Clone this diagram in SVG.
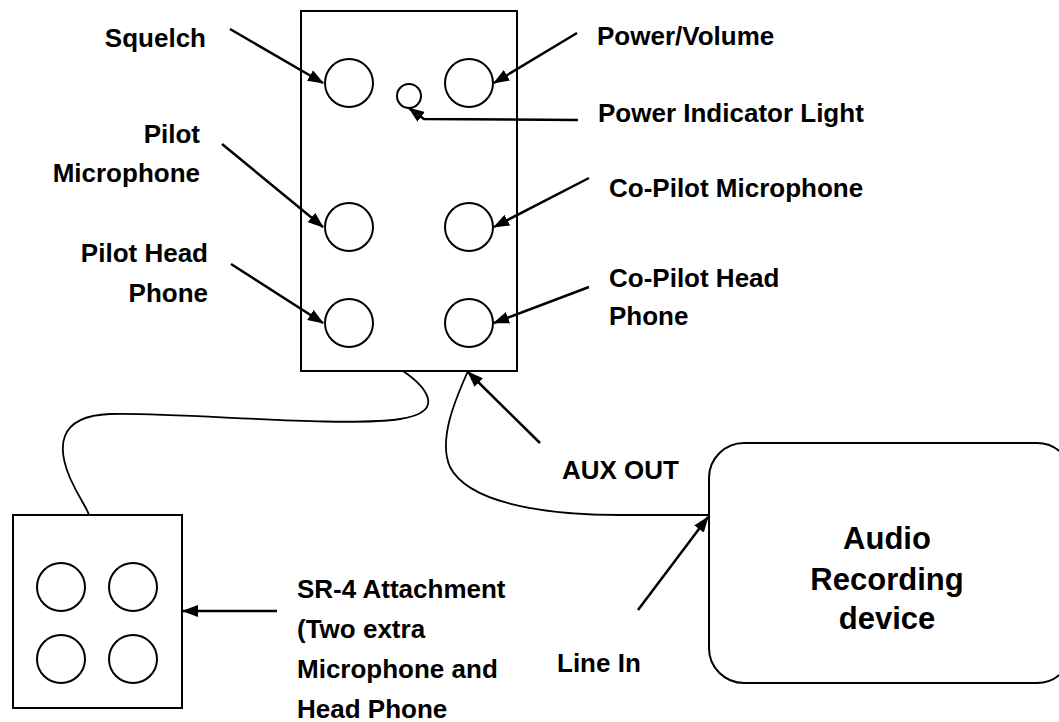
<svg xmlns="http://www.w3.org/2000/svg" width="1059" height="722" viewBox="0 0 1059 722">
<style>
.box{fill:#fff;stroke:#000;stroke-width:2}
.jack{fill:#fff;stroke:#000;stroke-width:2}
.arr{fill:none;stroke:#000;stroke-width:2.5;marker-end:url(#ah)}
.cable{fill:none;stroke:#000;stroke-width:1.8}
.t{font-family:"Liberation Sans",Arial,sans-serif;font-weight:bold;font-size:26px;fill:#000}
.big{font-family:"Liberation Sans",Arial,sans-serif;font-weight:bold;font-size:31px;fill:#000;text-anchor:middle}
.r{text-anchor:end}
</style>
<defs>
<marker id="ah" viewBox="0 0 16 12" refX="15" refY="6" markerWidth="16" markerHeight="12" markerUnits="userSpaceOnUse" orient="auto">
<path d="M0,0 L16,6 L0,12 z" fill="#000"/>
</marker>
</defs>
<g id="intercom">
<rect class="box" x="301" y="11" width="216" height="360"/>
<circle class="jack" cx="349" cy="83" r="24"/>
<circle class="jack" cx="469" cy="83" r="24"/>
<circle class="jack" cx="409" cy="96" r="12"/>
<circle class="jack" cx="349" cy="227" r="24"/>
<circle class="jack" cx="469" cy="227" r="24"/>
<circle class="jack" cx="349" cy="323" r="24"/>
<circle class="jack" cx="469" cy="323" r="24"/>
</g>
<g id="sr4">
<rect class="box" x="13" y="515" width="169" height="193"/>
<circle class="jack" cx="61" cy="587" r="24"/>
<circle class="jack" cx="133" cy="587" r="24"/>
<circle class="jack" cx="61" cy="659" r="24"/>
<circle class="jack" cx="133" cy="659" r="24"/>
</g>
<g id="recorder">
<rect class="box" x="709" y="443" width="363" height="240" rx="35" ry="35"/>
<text class="big" x="887" y="549">Audio</text>
<text class="big" x="887" y="590">Recording</text>
<text class="big" x="887" y="629">device</text>
</g>
<g id="connectors">
<path class="cable" d="M403,371 C425,386 448,412 400,419 C340,428 180,412 110,414 C55,416 58,450 70,478 C80,500 87,508 89,515"/>
<path class="cable" d="M468,371 C455,400 438,440 450,467 C468,502 540,515 620,515 L708,515"/>
<line class="arr" x1="230" y1="29" x2="323" y2="83"/>
<line class="arr" x1="222" y1="144" x2="323" y2="227"/>
<line class="arr" x1="231" y1="264" x2="323" y2="323"/>
<line class="arr" x1="577" y1="33" x2="494" y2="83"/>
<path class="arr" d="M578,120 L424,119 L409,108"/>
<line class="arr" x1="589" y1="178" x2="494" y2="227"/>
<line class="arr" x1="589" y1="287" x2="494" y2="323"/>
<line class="arr" x1="540" y1="443" x2="468" y2="372"/>
<line class="arr" x1="638" y1="610" x2="708" y2="517"/>
<line class="arr" x1="277" y1="611" x2="183" y2="611"/>
</g>
<g id="labels">
<text class="t r" x="206" y="47">Squelch</text>
<text class="t r" x="200" y="143">Pilot</text>
<text class="t r" x="200" y="182">Microphone</text>
<text class="t r" x="208" y="262">Pilot Head</text>
<text class="t r" x="208" y="302">Phone</text>
<text class="t" x="597" y="45">Power/Volume</text>
<text class="t" x="598" y="122">Power Indicator Light</text>
<text class="t" x="609" y="197">Co-Pilot Microphone</text>
<text class="t" x="609" y="287">Co-Pilot Head</text>
<text class="t" x="609" y="325">Phone</text>
<text class="t" x="562" y="479">AUX OUT</text>
<text class="t" x="557" y="672">Line In</text>
<text class="t" x="297" y="598">SR-4 Attachment</text>
<text class="t" x="297" y="638">(Two extra</text>
<text class="t" x="297" y="678">Microphone and</text>
<text class="t" x="297" y="718">Head Phone</text>
</g>
</svg>
